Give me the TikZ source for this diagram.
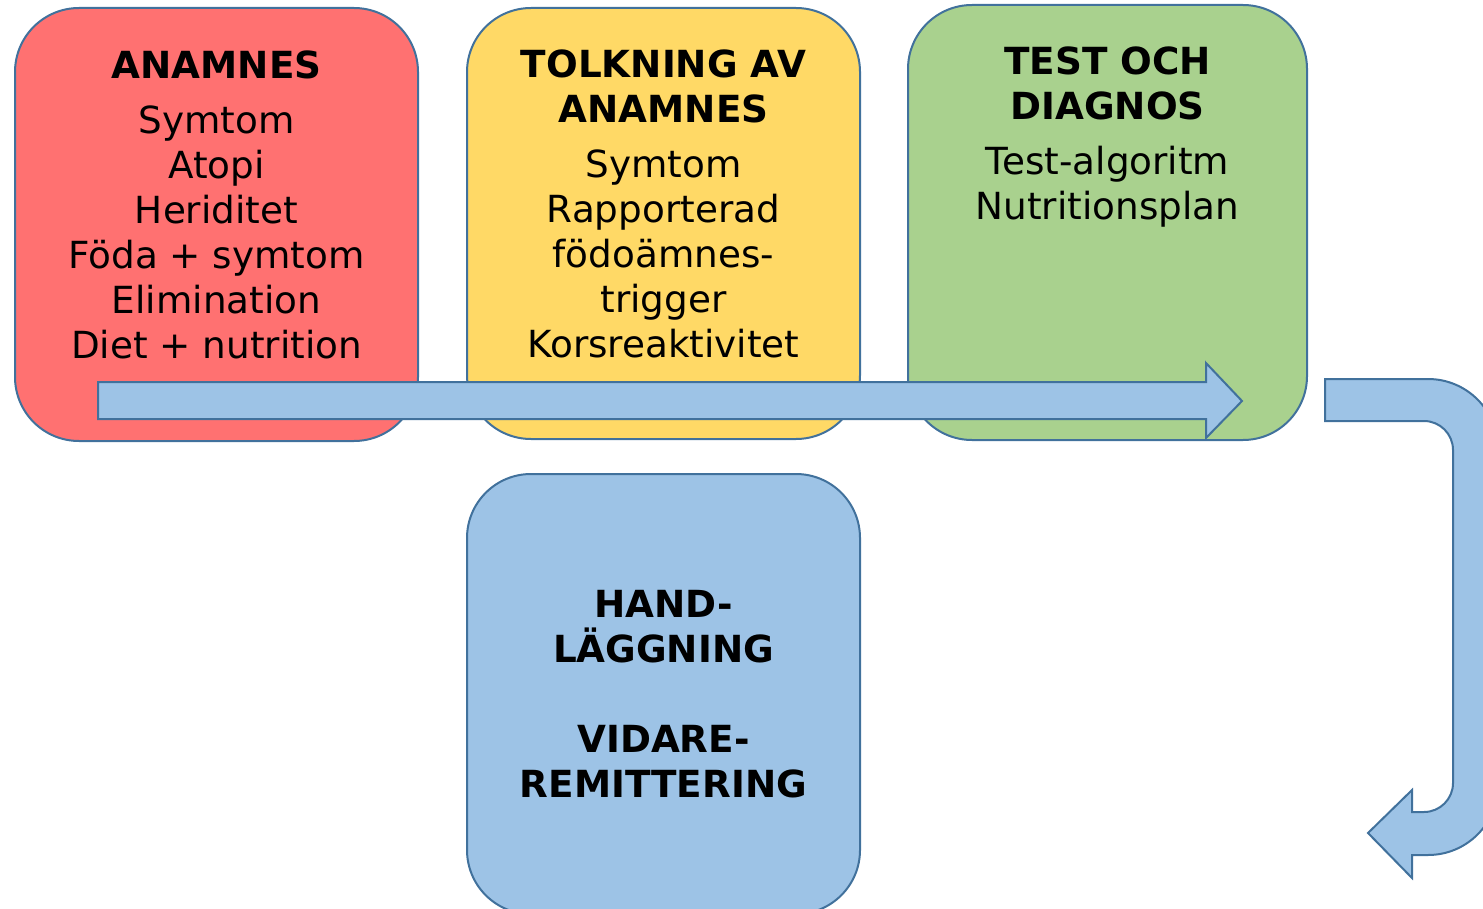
\documentclass[tikz,border=0pt]{standalone}
\usepackage{fontspec}
\setmainfont{DejaVu Sans}
\usetikzlibrary{positioning}

\definecolor{anamred}{RGB}{255,113,113}
\definecolor{tolkyellow}{RGB}{255,217,102}
\definecolor{testgreen}{RGB}{169,209,142}
\definecolor{handblue}{RGB}{157,195,230}
\definecolor{edgeblue}{RGB}{65,113,156}

\tikzset{every picture/.style={line width=0.75pt}}
\tikzset{
  stagebox/.style={draw=edgeblue, line width=1.5pt, rounded corners=48pt, inner sep=0pt},
  stagetext/.style={align=center, inner sep=0pt, font=\fontsize{28}{33.75}\selectfont},
  blockarrow/.style={draw=edgeblue, fill=handblue, line width=1.5pt, line join=miter}
}

\begin{document}
\begin{tikzpicture}[x=0.75pt,y=0.75pt,yscale=-1,xscale=1]
\clip (0,0) rectangle (1483,909);
\useasboundingbox (0,0) rectangle (1483,909);

%Rounded Rect [id:anamnes]
\node [stagebox, fill=anamred, minimum width=302.25pt, minimum height=324.75pt] (anamnes) at (216.5,224.5) {};
%Rounded Rect [id:tolkning]
\node [stagebox, fill=tolkyellow, minimum width=294.75pt, minimum height=323.25pt] (tolkning) at (663.5,223.5) {};
%Rounded Rect [id:test]
\node [stagebox, fill=testgreen, minimum width=299.25pt, minimum height=326.25pt] (test) at (1107.5,222.5) {};
%Rounded Rect [id:handlaggning]
\node [stagebox, fill=handblue, minimum width=294.75pt, minimum height=330pt, stagetext] (handlaggning) at (663.5,694) {\textbf{HAND-}\\\textbf{LÄGGNING}\\[33.75pt]\textbf{VIDARE-}\\\textbf{REMITTERING}};

% Text Node
\node [stagetext, below=32.5pt of anamnes.north] (anamnestext) {\textbf{ANAMNES}\\[7.5pt]Symtom\\Atopi\\Heriditet\\Föda + symtom\\Elimination\\Diet + nutrition};
% Text Node
\node [stagetext, below=31.5pt of tolkning.north] (tolkningtext) {\textbf{TOLKNING AV}\\\textbf{ANAMNES}\\[7.5pt]Symtom\\Rapporterad\\födoämnes-\\trigger\\Korsreaktivitet};
% Text Node
\node [stagetext, below=31.5pt of test.north] (testtext) {\textbf{TEST OCH}\\\textbf{DIAGNOS}\\[7.5pt]Test-algoritm\\Nutritionsplan};

%Right Arrow [id:flow]
\draw [blockarrow] (98,382) -- (1206,382) -- (1206,363) -- (1242,401) -- (1206,438) -- (1206,419) -- (98,419) -- cycle;

%U-Turn Arrow [id:turn]
\draw [blockarrow] (1325,379) -- (1428,379) .. controls (1466.7,379) and (1498,410.3) .. (1498,449) -- (1498,785) .. controls (1498,823.7) and (1466.7,855) .. (1428,855) -- (1412,855) -- (1412,878) -- (1368,833) -- (1412,790) -- (1412,812) -- (1424,812) .. controls (1440,812) and (1453,799) .. (1453,783) -- (1453,450) .. controls (1453,434) and (1440,421) .. (1424,421) -- (1325,421) -- cycle;

\end{tikzpicture}
\end{document}
